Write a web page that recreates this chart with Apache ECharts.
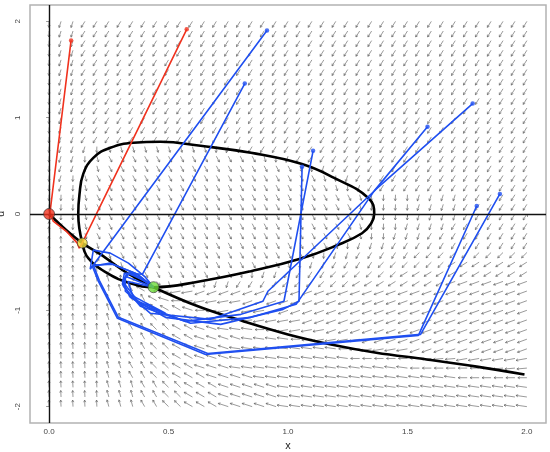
<!DOCTYPE html>
<html>
<head>
<meta charset="utf-8">
<script src="https://cdn.jsdelivr.net/npm/echarts@6/dist/echarts.min.js"></script>
<style>
  html, body { margin: 0; padding: 0; background: #fff; }
  #main { width: 550px; height: 452px; }
</style>
</head>
<body>
<div id="main"></div>
<script>
// grid of the direction field
const FIELD_X = [0, 0.05, 0.1, 0.15, 0.2, 0.25, 0.3, 0.35, 0.4, 0.45, 0.5, 0.55, 0.6, 0.65, 0.7, 0.75, 0.8, 0.85, 0.9, 0.95,
  1, 1.05, 1.1, 1.15, 1.2, 1.25, 1.3, 1.35, 1.4, 1.45, 1.5, 1.55, 1.6, 1.65, 1.7, 1.75, 1.8, 1.85, 1.9, 1.95, 2];
const FIELD_U = [2, 1.9, 1.8, 1.7, 1.6, 1.5, 1.4, 1.3, 1.2, 1.1, 1, 0.9, 0.8, 0.7, 0.6, 0.5, 0.4, 0.3, 0.2, 0.1,
  0, -0.1, -0.2, -0.3, -0.4, -0.5, -0.6, -0.7, -0.8, -0.9, -1, -1.1, -1.2, -1.3, -1.4, -1.5, -1.6, -1.7, -1.8, -1.9, -2];

// arrow kinds: [dx, du]
const ARROW_KIND = {
  v: [-0.001, -0.062], b: [-0.0084, -0.064], c: [-0.0156, -0.062], d: [-0.0223, -0.055],
  C: [-0.0303, -0.047], k: [-0.0395, -0.0356], h: [-0.0455, -0.0199], j: [-0.0418, -0.0091],
  l: [-0.0378, 0], q: [-0.0126, 0],
  u: [-0.0014, 0.0676], w: [-0.0076, 0.0704], x: [-0.0158, 0.0677], X: [-0.0253, 0.0626],
  y: [-0.0346, 0.0495], Y: [-0.042, 0.0338], z: [-0.0458, 0.016],
  e: [0.0065, -0.06], f: [0.0128, -0.0598], g: [0.0149, -0.0368], n: [0.0084, 0.036],
  o: [0, -0.021], p: [0, 0.021]
};

// one row per u value (top to bottom), run-length coded, 41 arrows each
const FIELD_ROWS = [
  'v b2 c38', 'v b2 c38', 'v b2 c38', 'v b2 c38', 'v b2 c38', 'v b2 c38', 'v b2 c38',
  'v b2 c38', 'v b2 c38', 'v b2 c38', 'v b2 c38', 'v b2 c38', 'v b2 c38',
  'v b3 v e9 v b2 c24',
  'v b2 v e f13 e v b c20',
  'v b2 v e f16 e v b c17',
  'v b v e f19 e v b c15',
  'v b v e f20 e v b c14',
  'v3 e f22 e v4 b4 c6',
  'v3 e f22 e v4 b4 c6',
  'o v2 e f23 e v3 b4 c6',
  'p o v e f22 e v3 b4 c7',
  'u2 o e f22 e v2 b3 c9',
  'u2 p o e f19 e v b3 c12',
  'u4 o e f16 e v b2 c5 d10',
  'u4 n2 e f13 e v b2 c4 d6 C7',
  'u5 n2 g f8 e v b2 c4 d6 C11',
  'u5 w u n o g e3 v b2 c4 d6 C8 k7',
  'u6 w x y q j h2 k28',
  'u5 w2 x2 y Y l j h4 k24',
  'u5 w2 x2 X y2 Y l j h4 k22',
  'u5 w2 x2 X2 y2 Y z l2 j h4 k19',
  'u5 w2 x2 X2 y2 Y2 z3 l j h4 k17',
  'u5 w2 x2 X2 y2 Y4 z4 l j h4 k14',
  'u5 w2 x2 X2 y2 Y3 z9 l j h4 k10',
  'u5 w2 x2 X2 y2 Y3 z10 l6 j3 h6',
  'u5 w2 x2 X2 y2 Y3 z15 l7 j3',
  'u5 w2 x2 X2 y3 Y4 z17 l6',
  'u5 w3 x2 X2 y3 Y5 z21',
  'u5 w3 x2 X2 y3 Y5 z21',
  'u5 w3 x2 X2 y3 Y5 z21'
];

// nullclines
const NULL_U = [[0, 0], [0.076, -0.177], [0.139, -0.302], [0.214, -0.417], [0.328, -0.615], [0.437, -0.76],
  [0.634, -0.969], [0.815, -1.115], [1.0, -1.25], [1.18, -1.354], [1.37, -1.44], [1.58, -1.51], [1.79, -1.585], [1.99, -1.667]];
const NULL_X = [[0.139, -0.302], [0.122, 0], [0.127, 0.2], [0.143, 0.417], [0.185, 0.583], [0.256, 0.6875],
  [0.353, 0.74], [0.466, 0.75], [0.634, 0.708], [0.845, 0.635], [1.055, 0.521], [1.193, 0.375], [1.336, 0.167],
  [1.361, 0], [1.349, -0.094], [1.31, -0.2], [1.2, -0.33], [1.055, -0.462], [0.845, -0.594], [0.634, -0.698], [0.437, -0.76],
  [0.34, -0.719], [0.244, -0.615], [0.164, -0.458], [0.139, -0.302]];

// trajectories
const RED_PATHS = [
  [[0.092, 1.802], [0.004, 0.021], [0.017, -0.073], [0.071, -0.177], [0.118, -0.302], [0.126, -0.354], [0.139, -0.302]],
  [[0.576, 1.917], [0.13, -0.344], [0.139, -0.302]]
];
const BLUE_PATHS = [
  [[0.912, 1.906], [0.172, -0.573], [0.185, -0.375], [0.256, -0.406], [0.332, -0.51], [0.403, -0.656], [0.437, -0.76]],
  [[0.819, 1.354], [0.391, -0.625], [0.315, -0.615], [0.307, -0.729], [0.353, -0.885], [0.487, -1.031], [0.35, -0.85], [0.33, -0.7], [0.437, -0.76]],
  [[1.059, 0.49], [1.046, -0.906], [0.979, -0.99], [0.718, -1.146], [0.487, -1.073], [0.34, -0.865], [0.307, -0.698], [0.332, -0.615], [0.403, -0.698], [0.437, -0.76]],
  [[1.105, 0.656], [0.983, -0.906], [0.803, -1.042], [0.571, -1.115], [0.382, -0.958], [0.311, -0.75], [0.324, -0.615], [0.382, -0.656], [0.437, -0.76]],
  [[1.584, 0.906], [1.361, 0.24], [1.034, -0.938], [0.845, -1.073], [0.592, -1.135], [0.382, -0.937], [0.307, -0.698], [0.34, -0.604], [0.437, -0.76]],
  [[1.773, 1.146], [1.37, 0.26], [0.916, -0.802], [0.895, -0.906], [0.676, -1.094], [0.424, -1.031], [0.319, -0.802], [0.319, -0.646], [0.437, -0.76]],
  [[1.79, 0.083], [1.546, -1.26], [0.655, -1.458], [0.286, -1.083], [0.206, -0.698], [0.181, -0.542], [0.256, -0.51], [0.361, -0.615], [0.437, -0.76]],
  [[1.887, 0.208], [1.555, -1.25], [0.664, -1.448], [0.29, -1.073], [0.21, -0.688], [0.185, -0.531], [0.265, -0.521], [0.37, -0.625], [0.437, -0.76]]
];

// equilibria
const EQ_RED = [0, 0];
const EQ_YELLOW = [0.139, -0.302];
const EQ_GREEN = [0.437, -0.76];

const X_TICKS = [0, 0.5, 1, 1.5, 2];
const U_TICKS = [-2, -1, 0, 1, 2];

// build arrow list from the coded rows
const fieldData = [];
FIELD_ROWS.forEach((row, j) => {
  let i = 0;
  row.split(' ').forEach(tok => {
    const d = ARROW_KIND[tok[0]];
    const n = tok.length > 1 ? +tok.slice(1) : 1;
    for (let k = 0; k < n; k++, i++) {
      fieldData.push([FIELD_X[i], FIELD_U[j], d[0], d[1]]);
    }
  });
});

const chart = echarts.init(document.getElementById('main'));

function arrowItem(params, api) {
  const x = api.value(0), u = api.value(1);
  const p0 = api.coord([x, u]);
  const p1 = api.coord([x + api.value(2), u + api.value(3)]);
  const ang = Math.atan2(p1[1] - p0[1], p1[0] - p0[0]);
  const h = 2.4, spread = 0.52;
  const a1 = [p1[0] - h * Math.cos(ang - spread), p1[1] - h * Math.sin(ang - spread)];
  const a2 = [p1[0] - h * Math.cos(ang + spread), p1[1] - h * Math.sin(ang + spread)];
  const style = { stroke: '#555', lineWidth: 0.6, fill: null };
  return {
    type: 'group',
    children: [
      { type: 'line', shape: { x1: p0[0], y1: p0[1], x2: p1[0], y2: p1[1] }, style },
      { type: 'polyline', shape: { points: [a1, p1, a2] }, style }
    ]
  };
}

const series = [];
series.push({
  type: 'custom',
  renderItem: arrowItem,
  data: fieldData,
  encode: { x: 0, y: 1 },
  silent: true,
  z: 1,
  markLine: {
    silent: true,
    symbol: 'none',
    label: { show: false },
    lineStyle: { color: '#111', width: 1.4, type: 'solid' },
    data: [{ xAxis: 0 }, { yAxis: 0 }]
  }
});
series.push({
  type: 'line', data: NULL_X, smooth: 0.45, showSymbol: false, silent: true, z: 3,
  lineStyle: { color: '#000', width: 2.6 }
});
series.push({
  type: 'line', data: NULL_U, smooth: 0.35, showSymbol: false, silent: true, z: 3,
  lineStyle: { color: '#000', width: 2.6 }
});
BLUE_PATHS.forEach(p => {
  series.push({
    type: 'line', data: p, showSymbol: false, silent: true, z: 4,
    lineStyle: { color: '#1f4ff0', width: 1.6 }
  });
});
RED_PATHS.forEach(p => {
  series.push({
    type: 'line', data: p, showSymbol: false, silent: true, z: 4,
    lineStyle: { color: '#f0321e', width: 1.6 }
  });
});
series.push({
  type: 'scatter', data: BLUE_PATHS.map(p => p[0]), symbolSize: 4.5, silent: true, z: 5,
  itemStyle: { color: '#1f4ff0' }
});
series.push({
  type: 'scatter', data: RED_PATHS.map(p => p[0]), symbolSize: 4.5, silent: true, z: 5,
  itemStyle: { color: '#f0321e' }
});
series.push({
  type: 'scatter', silent: true, z: 6,
  data: [
    { value: EQ_RED, symbolSize: 11, itemStyle: { color: '#f0321e' } },
    { value: EQ_YELLOW, symbolSize: 10, itemStyle: { color: '#f3df3c' } },
    { value: EQ_GREEN, symbolSize: 11, itemStyle: { color: '#6edc3a' } }
  ],
  itemStyle: { borderColor: '#333', borderWidth: 0.8 }
});

chart.setOption({
  animation: false,
  backgroundColor: '#fff',
  grid: {
    left: 30, right: 4, top: 5, bottom: 29,
    outerBoundsMode: 'none',
    show: true, borderColor: '#b3b3b3', borderWidth: 1.5
  },
  xAxis: {
    type: 'value', min: -0.08, max: 2.08,
    name: 'x', nameLocation: 'middle', nameGap: 15,
    nameTextStyle: { fontSize: 11, color: '#222', fontFamily: 'Liberation Sans' },
    axisLine: { show: false },
    splitLine: { show: false },
    axisTick: { show: true, length: 3, lineStyle: { color: '#999' }, customValues: X_TICKS },
    axisLabel: {
      fontSize: 8, color: '#444', margin: 5, fontFamily: 'Liberation Sans',
      customValues: X_TICKS, formatter: v => v.toFixed(1)
    }
  },
  yAxis: {
    type: 'value', min: -2.17, max: 2.17,
    name: 'u', nameLocation: 'middle', nameGap: 16, nameRotate: 90,
    nameTextStyle: { fontSize: 11, color: '#222', fontFamily: 'Liberation Sans' },
    axisLine: { show: false },
    splitLine: { show: false },
    axisTick: { show: true, length: 3, lineStyle: { color: '#999' }, customValues: U_TICKS },
    axisLabel: {
      fontSize: 8, color: '#444', margin: 8, rotate: 90, fontFamily: 'Liberation Sans',
      customValues: U_TICKS, formatter: v => String(v)
    }
  },
  series
});
</script>
</body>
</html>
